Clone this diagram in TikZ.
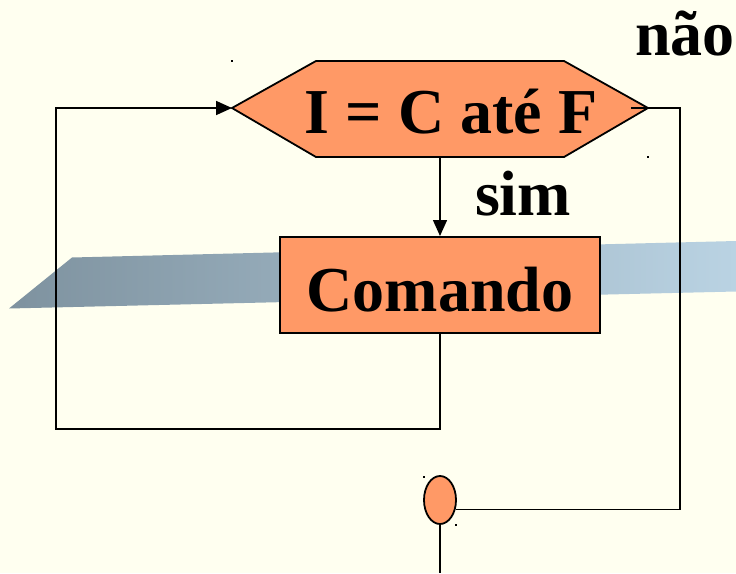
\documentclass[tikz,border=0pt]{standalone}
\usepackage{fontspec}
\setmainfont{Liberation Serif}
\usetikzlibrary{arrows.meta,shapes.geometric}
\definecolor{paper}{HTML}{FFFFF0}
\definecolor{boxfill}{HTML}{FF9966}
\definecolor{bandL}{HTML}{7E929F}
\definecolor{bandR}{HTML}{BAD3E3}
\begin{document}
\begin{tikzpicture}[x=1pt,y=-1pt,
  wire/.style={line width=1.8pt,black},
  flow/.style={wire,-{Triangle[length=16pt,width=14pt]}},
  lbl/.style={font=\fontsize{64}{64}\selectfont\bfseries,inner sep=0pt},
  cmdbox/.style={draw=black,line width=2pt,fill=boxfill,minimum width=320pt,minimum height=96pt,
    inner sep=0pt,text height=53pt,text depth=0pt,font=\fontsize{64}{64}\selectfont\bfseries},
  junction/.style={ellipse,draw=black,line width=1.8pt,fill=boxfill,minimum width=32pt,minimum height=48pt,inner sep=0pt},
  handle/.style={fill=black}]
% page
\fill[paper] (0,0) rectangle (736,573);
\useasboundingbox (0,0) rectangle (736,573);
% shaded band behind the command box
\shade[left color=bandL,right color=bandR] (9,308.5) -- (72,257.5) -- (736,241) -- (736,291.5) -- cycle;
% decision hexagon
\draw[line width=1.8pt,fill=boxfill] (232,108) -- (316,61) -- (564,61) -- (648,108) -- (564,157) -- (316,157) -- cycle;
\coordinate (hexL) at (232,108);
\coordinate (hexB) at (440,157);
\coordinate (hexR) at (631,108);
\node[lbl,anchor=base] (cond) at (451,133) {I = C até F};
% labels
\node[lbl,anchor=base] (yes) at (523,215) {sim};
\node[lbl,anchor=base] (no) at (685,55) {não};
% command box
\node[cmdbox] (cmd) at (440,285) {Comando};
% junction
\node[junction] (jn) at (440,500) {};
% loop corners and free end
\coordinate (loopBL) at (56,429);
\coordinate (loopTL) at (56,108);
\coordinate (exitTR) at (680,108);
\coordinate (out) at (440,573);
% connectors
\draw[flow,line width=1.5pt] (hexB) -- (cmd.north);
\draw[flow] (cmd.south) |- (loopBL) -- (loopTL) -- (hexL);
\draw[wire] (hexR) -- (exitTR) |- (jn.-31);
\draw[wire] (jn.south) -- (out);
% selection handles
\fill[handle] (231,60) rectangle +(2,2);
\fill[handle] (647,156) rectangle +(2,2);
\fill[handle] (423,476) rectangle +(2,2);
\fill[handle] (455,524) rectangle +(2,2);
\end{tikzpicture}
\end{document}
